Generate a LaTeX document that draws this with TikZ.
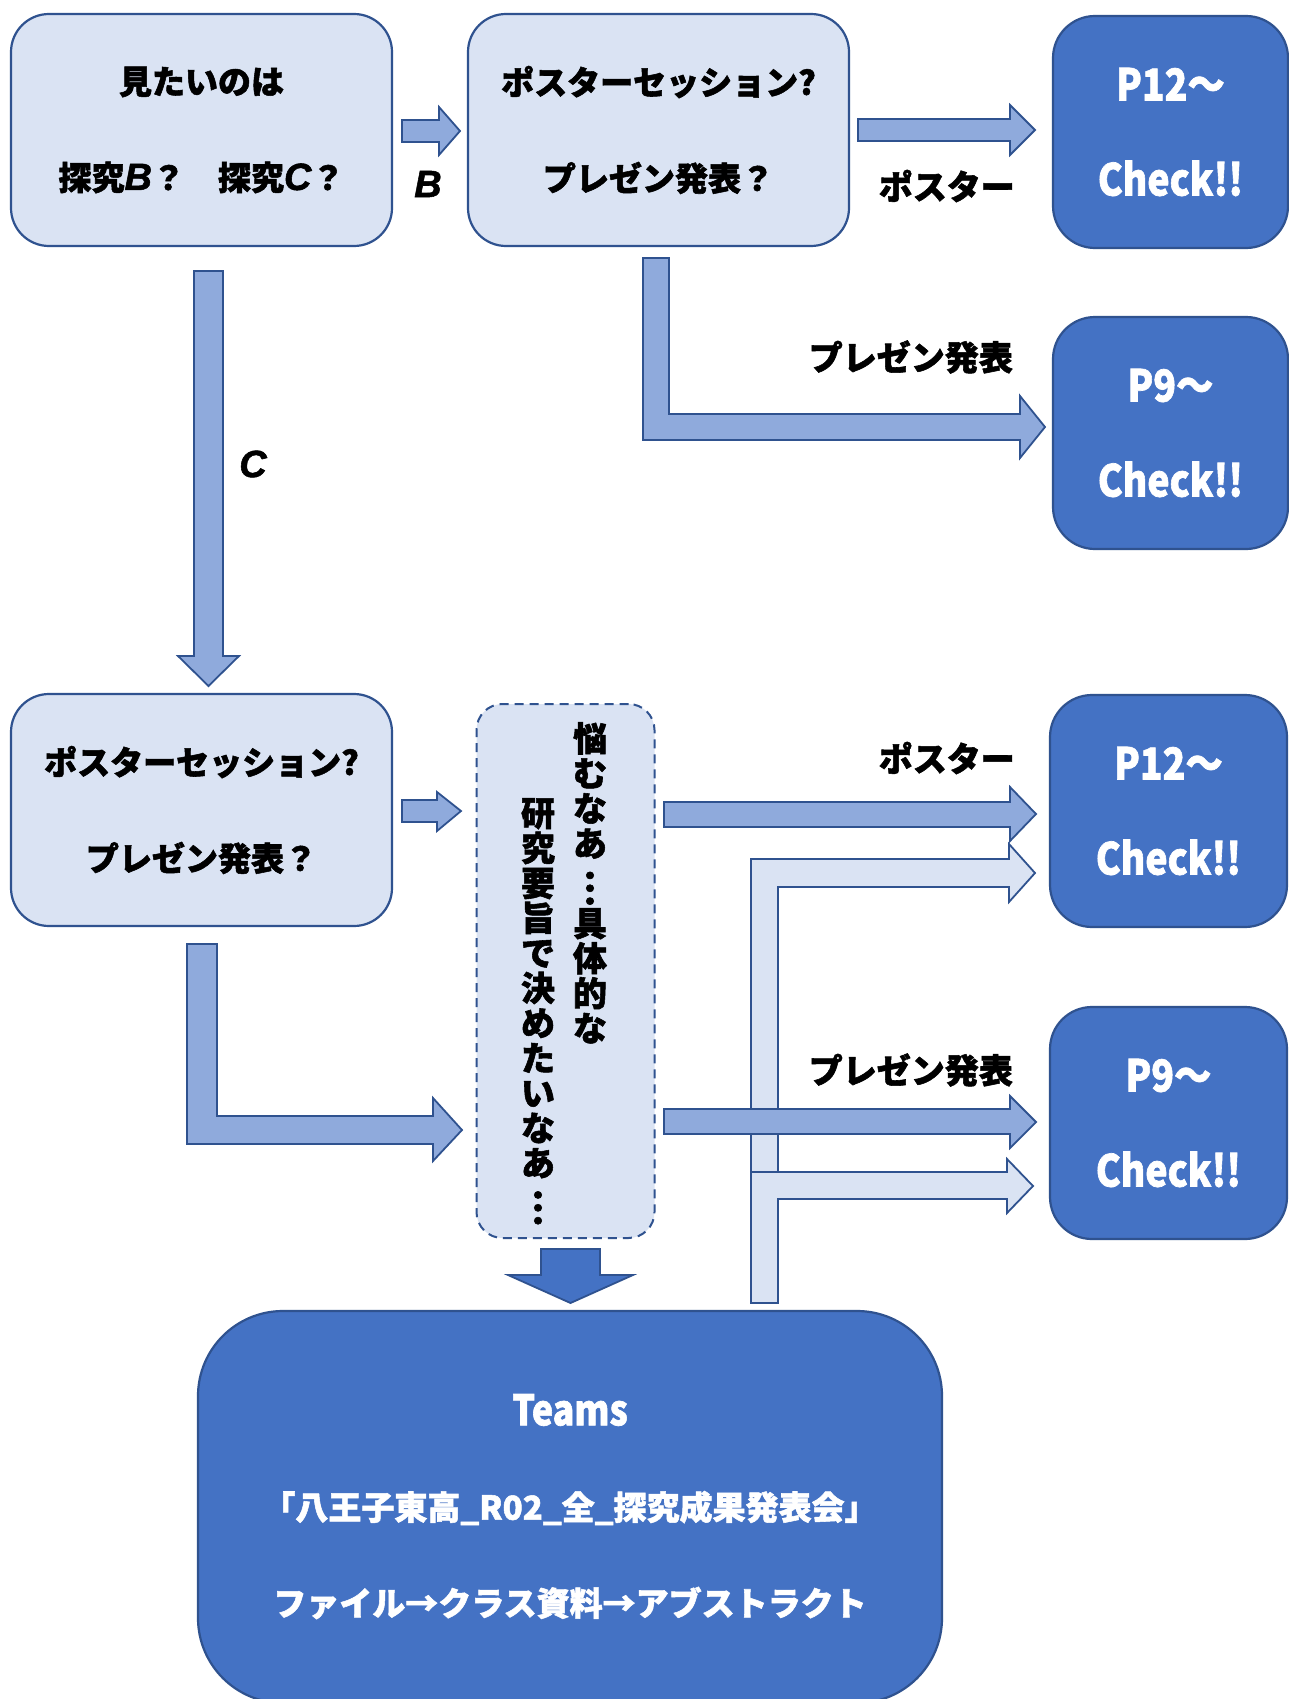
\documentclass[tikz,border=0pt]{standalone}
\usepackage{fontspec}
\usepackage{graphicx}
\newfontfamily\jp{Noto Sans CJK JP}[BoldFeatures={FakeBold=1.6}]
\newfontfamily\latf{Liberation Sans}[BoldItalicFeatures={FakeBold=1.4}]
\definecolor{lightfill}{HTML}{DAE3F3}
\definecolor{arrowfill}{HTML}{8FAADC}
\definecolor{darkfill}{HTML}{4472C4}
\definecolor{edgecol}{HTML}{2F528F}
\newcommand\boxfont{\jp\bfseries\fontsize{33}{96}\selectfont}
\newcommand\pfont{\jp\bfseries\fontsize{44}{95}\selectfont}
\newcommand\lblfont{\jp\bfseries\fontsize{34}{40}\selectfont}
\newcommand\vfont{\jp\bfseries\fontsize{34}{35}\selectfont}
\newcommand\bigit[1]{{\latf\bfseries\itshape\fontsize{38}{40}\selectfont #1}}
\newcommand\narrowtxt[1]{\scalebox{0.85}[1]{#1}}
\newcommand\vertdots{\rotatebox[origin=c]{-90}{…}}
\begin{document}
\begin{tikzpicture}[x=1pt,y=-1pt,
  lightbox/.style={draw=edgecol, line width=2.2pt, fill=lightfill, rounded corners=38pt,
    inner sep=0pt, align=center, font=\boxfont, minimum width=381pt, minimum height=232pt},
  darkbox/.style={draw=edgecol, line width=2.2pt, fill=darkfill, rounded corners=42pt,
    inner sep=0pt, align=center, font=\pfont, text=white, minimum height=232pt},
  dashbox/.style={draw=edgecol, line width=2pt, fill=lightfill, rounded corners=26pt,
    dash pattern=on 9pt off 6pt, inner sep=0pt, minimum width=178pt, minimum height=534pt},
  bigbox/.style={draw=edgecol, line width=2.2pt, fill=darkfill, rounded corners=85pt,
    inner sep=0pt, minimum width=744pt, minimum height=392pt},
  lbl/.style={font=\lblfont, inner sep=0pt, text=black},
  whitetxt/.style={font=\jp\bfseries\fontsize{33}{40}\selectfont, text=white, inner sep=0pt},
  vcol/.style={font=\vfont, align=center, inner sep=0pt, anchor=north},
  blockarrow/.style={draw=edgecol, line width=1.8pt, fill=arrowfill, line join=miter},
  lightarrow/.style={blockarrow, fill=lightfill},
  darkarrow/.style={blockarrow, fill=darkfill}]
\useasboundingbox (0,0) rectangle (1288,1699);
\fill[white] (0,0) rectangle (1288,1699);

% ---------- boxes ----------
\node[lightbox] (q1) at (201.5,130) {見たいのは\\探究\bigit{B}？　探究\bigit{C}？};
\node[lightbox] (q2) at (658.5,130) {ポスターセッション?\\プレゼン発表？};
\node[darkbox, minimum width=235pt] (p12a) at (1170.5,132) {\narrowtxt{P12～}\\\narrowtxt{Check!!}};
\node[darkbox, minimum width=235pt] (p9a) at (1170.5,433) {\narrowtxt{P9～}\\\narrowtxt{Check!!}};
\node[lightbox] (q3) at (201.5,810) {ポスターセッション?\\プレゼン発表？};
\node[dashbox] (worry) at (565.5,971) {};
\node[vcol] (colR) at (590,722) {悩\\む\\な\\あ\\\vertdots\\具\\体\\的\\な};
\node[vcol] (colL) at (538,798) {研\\究\\要\\旨\\で\\決\\め\\た\\い\\な\\あ\\\vertdots};
\node[darkbox, minimum width=237pt] (p12b) at (1168.5,811) {\narrowtxt{P12～}\\\narrowtxt{Check!!}};
\node[darkbox, minimum width=237pt] (p9b) at (1168.5,1123) {\narrowtxt{P9～}\\\narrowtxt{Check!!}};
\node[bigbox] (teams) at (570,1507) {};
\node[text=white, inner sep=0pt, font=\jp\bfseries\fontsize{42}{44}\selectfont] (tteams) at (570,1410) {\narrowtxt{Teams}};
\node[whitetxt] (tname) at (570,1508) {「八王子東高\_R02\_全\_探究成果発表会」};
\node[whitetxt] (tpath) at (570,1603) {ファイル→クラス資料→アブストラクト};

% ---------- labels ----------
\node[lbl, anchor=east] (lpos1) at (1015,186) {ポスター};
\node[lbl, anchor=east] (lpre1) at (1013,357) {プレゼン発表};
\node[lbl, anchor=east] (lpos2) at (1015,758) {ポスター};
\node[lbl, anchor=east] (lpre2) at (1013,1070) {プレゼン発表};
\node[inner sep=0pt] (lB) at (428,184) {\bigit{B}};
\node[inner sep=0pt] (lC) at (253,464) {\bigit{C}};

% ---------- block arrows ----------
% q1 -> q2 (B)
\draw[blockarrow] (402,120) -- (439,120) -- (439,107) -- (460,131) -- (439,155) -- (439,142) -- (402,142) -- cycle;
% q2 -> p12a (poster)
\draw[blockarrow] (858,119) -- (1010,119) -- (1010,105) -- (1035,130) -- (1010,155) -- (1010,141) -- (858,141) -- cycle;
% q2 -> p9a (presentation)
\draw[blockarrow] (643,258) -- (669,258) -- (669,414) -- (1020,414) -- (1020,396) -- (1045,427) -- (1020,458) -- (1020,440) -- (643,440) -- cycle;
% q1 -> q3 (C)
\draw[blockarrow] (194,271) -- (223,271) -- (223,656) -- (239,656) -- (208.5,686) -- (178,656) -- (194,656) -- cycle;
% q3 -> worry
\draw[blockarrow] (402,800) -- (437,800) -- (437,792) -- (461,811) -- (437,831) -- (437,822) -- (402,822) -- cycle;
\draw[blockarrow] (187,944) -- (217,944) -- (217,1116) -- (433,1116) -- (433,1098) -- (462,1130) -- (433,1161) -- (433,1144) -- (187,1144) -- cycle;
% teams -> p12b / p9b (light)
\draw[lightarrow] (751,1303) -- (751,859) -- (1009,859) -- (1009,844) -- (1035,873) -- (1009,902) -- (1009,887) -- (778,887) -- (778,1303) -- cycle;
\draw[lightarrow] (751,1303) -- (751,1172) -- (1007,1172) -- (1007,1159) -- (1033,1186) -- (1007,1213) -- (1007,1199) -- (778,1199) -- (778,1303) -- cycle;
% worry -> p12b / p9b
\draw[blockarrow] (664,802) -- (1010,802) -- (1010,787) -- (1036,814) -- (1010,841) -- (1010,827) -- (664,827) -- cycle;
\draw[blockarrow] (664,1109) -- (1010,1109) -- (1010,1096) -- (1036,1122) -- (1010,1148) -- (1010,1134) -- (664,1134) -- cycle;
% worry -> teams
\draw[darkarrow] (541,1249) -- (600,1249) -- (600,1275) -- (633,1275) -- (570.5,1303) -- (508,1275) -- (541,1275) -- cycle;
\end{tikzpicture}
\end{document}
